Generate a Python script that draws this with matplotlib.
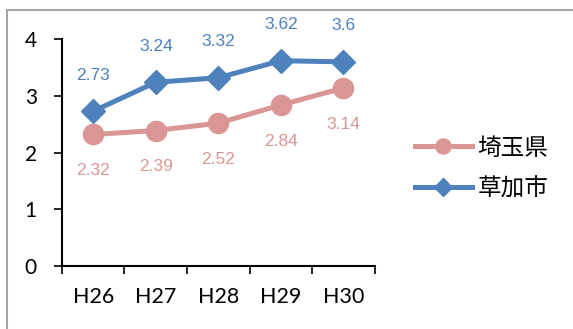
import matplotlib
matplotlib.use('Agg')
import matplotlib.pyplot as plt
from matplotlib.patches import Rectangle

# data
years    = ['H26', 'H27', 'H28', 'H29', 'H30']
saitama  = [2.32, 2.39, 2.52, 2.84, 3.14]
soka     = [2.73, 3.24, 3.32, 3.62, 3.6]
names    = ['埼玉県', '草加市']

PINK = '#DA9694'
BLUE = '#4F81BD'

fig = plt.figure(figsize=(5.73, 3.29), dpi=100)
ax = fig.add_axes([0.108, 0.191, 0.546, 0.690])

# frame of the chart area (only top/left visible in the crop)
fig.patches.append(Rectangle((7 / 573, -0.05), 1.1, 1 - 9.5 / 329 + 0.05,
                             transform=fig.transFigure, fill=False,
                             edgecolor='#a6a6a6', linewidth=1.5))

x = [i + 0.5 for i in range(len(years))]
ax.plot(x, saitama, color=PINK, linewidth=3.6, marker='o', markersize=14.5,
        label=names[0])
ax.plot(x, soka, color=BLUE, linewidth=3.6, marker='D', markersize=12,
        label=names[1])

for xi, v in zip(x, saitama):
    ax.annotate(f'{v:g}', (xi, v), xytext=(0, -26), textcoords='offset points',
                ha='center', va='center', color=PINK, fontsize=12.5,
                family='Liberation Sans')
for xi, v in zip(x, soka):
    ax.annotate(f'{v:g}', (xi, v), xytext=(0, 26), textcoords='offset points',
                ha='center', va='center', color=BLUE, fontsize=12.5,
                family='Liberation Sans')

ax.set_xlim(0, len(years))
ax.set_ylim(0, 4)
ax.set_yticks([0, 1, 2, 3, 4])
ax.set_xticks(range(len(years) + 1))
ax.set_xticklabels([])
ax.set_xticks(x, minor=True)
ax.set_xticklabels(years, minor=True, fontsize=15.5, family='Lato')
ax.tick_params(axis='x', which='minor', length=0, pad=15)
ax.tick_params(axis='x', which='major', length=6, width=1.2, direction='out')
ax.tick_params(axis='y', length=6, width=1.2, labelsize=15, pad=12)
for lab in ax.get_yticklabels():
    lab.set_family('Lato')
for s in ['top', 'right']:
    ax.spines[s].set_visible(False)
for s in ['left', 'bottom']:
    ax.spines[s].set_linewidth(1.5)

leg = ax.legend(loc='center left', bbox_to_anchor=(415 / 573, 1 - 168.5 / 329),
                bbox_transform=fig.transFigure, frameon=False,
                borderpad=0, borderaxespad=0, markerscale=0.75,
                prop={'family': ['Noto Sans CJK JP', 'DejaVu Sans'], 'size': 17},
                handlelength=2.4, handletextpad=0.25, labelspacing=0.75)

fig.savefig('out.png', dpi=100)
